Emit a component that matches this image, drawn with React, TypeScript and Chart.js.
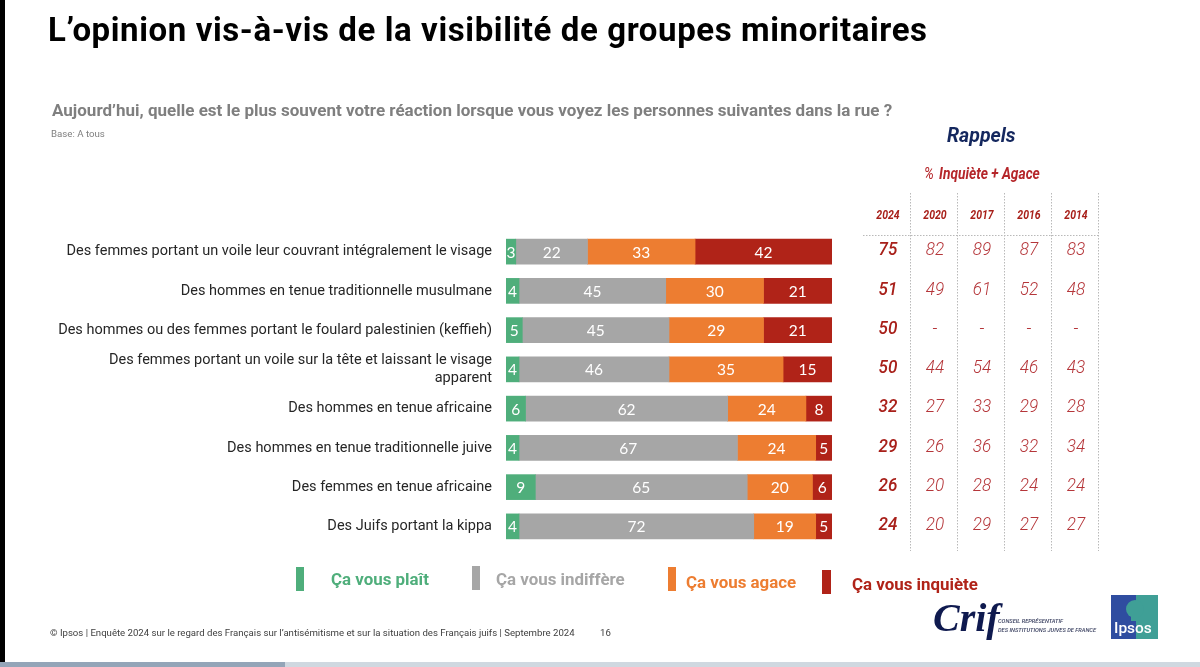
import React, { useEffect, useRef } from "react";
import { Chart, registerables } from "chart.js";

Chart.register(...registerables);

const categories: (string | string[])[] = [
  "Des femmes portant un voile leur couvrant intégralement le visage",
  "Des hommes en tenue traditionnelle musulmane",
  "Des hommes ou des femmes portant le foulard palestinien (keffieh)",
  ["Des femmes portant un voile sur la tête et laissant le visage", "apparent"],
  "Des hommes en tenue africaine",
  "Des hommes en tenue traditionnelle juive",
  "Des femmes en tenue africaine",
  "Des Juifs portant la kippa",
];
const plait = [3, 4, 5, 4, 6, 4, 9, 4];
const indifferent = [22, 45, 45, 46, 62, 67, 65, 72];
const agace = [33, 30, 29, 35, 24, 24, 20, 19];
const inquiete = [42, 21, 21, 15, 8, 5, 6, 5];

const years = ["2024", "2020", "2017", "2016", "2014"];
const r2024 = ["75", "51", "50", "50", "32", "29", "26", "24"];
const r2020 = ["82", "49", "-", "44", "27", "26", "20", "20"];
const r2017 = ["89", "61", "-", "54", "33", "36", "28", "29"];
const r2016 = ["87", "52", "-", "46", "29", "32", "24", "27"];
const r2014 = ["83", "48", "-", "43", "28", "34", "24", "27"];
const rappels = [r2024, r2020, r2017, r2016, r2014];

const columnX = [888, 935, 982, 1029, 1076];
const GREEN = "#4fae7b";
const GREY = "#a6a6a6";
const ORANGE = "#ed7d31";
const RED = "#b02318";

function squeezed(ctx: CanvasRenderingContext2D, text: string, x: number, y: number, sx: number) {
  ctx.save();
  ctx.translate(x, y);
  ctx.scale(sx, 1);
  ctx.fillText(text, 0, 0);
  ctx.restore();
}

const valueLabels = {
  id: "valueLabels",
  afterDatasetsDraw(chart: any) {
    const { ctx } = chart;
    ctx.save();
    ctx.font = '15.5px Lato';
    ctx.fillStyle = "#ffffff";
    ctx.textAlign = "center";
    ctx.textBaseline = "middle";
    chart.data.datasets.forEach((ds: any, i: number) => {
      chart.getDatasetMeta(i).data.forEach((el: any, j: number) => {
        const c = el.getCenterPoint();
        ctx.fillText(String(ds.data[j]), c.x, c.y + 1);
      });
    });
    ctx.restore();
  },
};

const rappelTable = {
  id: "rappelTable",
  afterDraw(chart: any) {
    const { ctx } = chart;
    const y = chart.scales.y;
    ctx.save();
    ctx.strokeStyle = "#b9b9b9";
    ctx.lineWidth = 1;
    ctx.setLineDash([1.5, 1.5]);
    [910, 957, 1004, 1051, 1098].forEach((x) => {
      ctx.beginPath();
      ctx.moveTo(x + 0.5, 193);
      ctx.lineTo(x + 0.5, 551);
      ctx.stroke();
    });
    ctx.beginPath();
    ctx.moveTo(863, 235.5);
    ctx.lineTo(1098, 235.5);
    ctx.stroke();
    ctx.setLineDash([]);
    ctx.textAlign = "center";
    ctx.textBaseline = "middle";
    years.forEach((yr, c) => {
      ctx.font = 'italic 700 12.5px Roboto';
      ctx.fillStyle = "#a8201a";
      squeezed(ctx, yr, columnX[c], 215.5, 0.84);
    });
    rappels.forEach((col, c) => {
      col.forEach((v, r) => {
        ctx.font = c === 0 ? 'italic 500 19px Roboto' : 'italic 300 19px Roboto';
        ctx.fillStyle = c === 0 ? "#a8201a" : "#b5363a";
        squeezed(ctx, v, columnX[c], y.getPixelForValue(r) - 1, 0.9);
      });
    });
    ctx.textAlign = "left";
    ctx.fillStyle = "#b5262a";
    ctx.font = 'italic 400 16px Roboto';
    squeezed(ctx, "%", 924, 174.5, 0.86);
    ctx.font = 'italic 700 16px Roboto';
    squeezed(ctx, "Inquiète + Agace", 939, 174.5, 0.86);
    ctx.restore();
  },
};

const abs = (s: React.CSSProperties): React.CSSProperties => ({
  position: "absolute",
  whiteSpace: "nowrap",
  fontFamily: "Roboto",
  lineHeight: 1,
  ...s,
});

const legendItems = [
  { label: "Ça vous plaît", color: GREEN, sx: 296, sw: 8, sy: 567, tx: 331, ty: 571 },
  { label: "Ça vous indiffère", color: GREY, sx: 472, sw: 8, sy: 566, tx: 496, ty: 571 },
  { label: "Ça vous agace", color: ORANGE, sx: 668, sw: 8, sy: 567, tx: 686, ty: 574 },
  { label: "Ça vous inquiète", color: RED, sx: 822, sw: 9, sy: 570, tx: 852, ty: 576 },
];

export default function App() {
  const ref = useRef<HTMLCanvasElement>(null);
  useEffect(() => {
    document.body.style.margin = "0";
    const chart = new Chart(ref.current!, {
      type: "bar",
      data: {
        labels: categories as any,
        datasets: [
          { label: "Ça vous plaît", data: plait, backgroundColor: GREEN },
          { label: "Ça vous indiffère", data: indifferent, backgroundColor: GREY },
          { label: "Ça vous agace", data: agace, backgroundColor: ORANGE },
          { label: "Ça vous inquiète", data: inquiete, backgroundColor: RED },
        ],
      },
      options: {
        indexAxis: "y",
        animation: false,
        responsive: false,
        maintainAspectRatio: false,
        datasets: { bar: { barThickness: 25 } },
        layout: { padding: { left: 0, right: 368, top: 232, bottom: 121 } },
        plugins: { legend: { display: false }, title: { display: false }, tooltip: { enabled: false } },
        scales: {
          x: { stacked: true, min: 0, max: 100, display: false },
          y: {
            stacked: true,
            afterFit: (s: any) => { s.width = 506; },
            grid: { display: false, drawTicks: false },
            border: { display: false },
            ticks: {
              color: "#262626",
              padding: 14,
              autoSkip: false,
              font: { family: "Roboto", size: 14.5, lineHeight: 1.18 },
            },
          },
        },
      },
      plugins: [valueLabels, rappelTable],
    } as any);
    return () => chart.destroy();
  }, []);

  return (
    <div style={{ position: "fixed", left: 0, top: 0, width: 1200, height: 667, background: "#fff", overflow: "hidden" }}>
      <canvas ref={ref} width={1200} height={667} style={{ position: "absolute", left: 0, top: 0, width: 1200, height: 667 }} />
      <div style={abs({ left: 0, top: 0, width: 5, height: 662, background: "#000" })} />
      <div style={abs({ left: 0, top: 662, width: 285, height: 5, background: "#94a5b8" })} />
      <div style={abs({ left: 285, top: 662, width: 915, height: 5, background: "#cfd8e0" })} />
      <div style={abs({ left: 48, top: 13, fontSize: 33, fontWeight: 700, letterSpacing: 0.6, color: "#000" })}>
        L’opinion vis-à-vis de la visibilité de groupes minoritaires
      </div>
      <div style={abs({ left: 52, top: 102, fontSize: 17, fontWeight: 700, color: "#7f7f7f" })}>
        Aujourd’hui, quelle est le plus souvent votre réaction lorsque vous voyez les personnes suivantes dans la rue ?
      </div>
      <div style={abs({ left: 51, top: 129, fontSize: 9.7, color: "#7f7f7f" })}>Base: A tous</div>
      <div style={abs({ left: 947, top: 126, fontSize: 19.5, fontWeight: 700, fontStyle: "italic", color: "#14275e" })}>Rappels</div>
      {legendItems.map((l) => (
        <React.Fragment key={l.label}>
          <div style={abs({ left: l.sx, top: l.sy, width: l.sw, height: 24, background: l.color })} />
          <div style={abs({ left: l.tx, top: l.ty, fontSize: 16.9, fontWeight: 700, color: l.color })}>{l.label}</div>
        </React.Fragment>
      ))}
      <div style={abs({ left: 50, top: 628, fontSize: 9.6, color: "#404040" })}>
        © Ipsos | Enquête 2024 sur le regard des Français sur l’antisémitisme et sur la situation des Français juifs | Septembre 2024
      </div>
      <div style={abs({ left: 600, top: 628, fontSize: 9.6, color: "#404040" })}>16</div>
      <div style={abs({ left: 933, top: 598, fontSize: 40, fontWeight: 700, fontStyle: "italic", fontFamily: "Liberation Serif", color: "#0f1a4f" })}>Crif</div>
      <div style={abs({ left: 998, top: 617, fontSize: 5.7, fontStyle: "italic", fontWeight: 500, color: "#3a4060", lineHeight: "9px" })}>
        CONSEIL REPRÉSENTATIF<br />DES INSTITUTIONS JUIVES DE FRANCE
      </div>
      <svg style={{ position: "absolute", left: 1111, top: 595 }} width={47} height={44} viewBox="0 0 47 44">
        <rect x={0} y={0} width={47} height={44} fill="#2f4da0" />
        <rect x={25} y={0} width={22} height={44} fill="#3f9f96" />
        <circle cx={24} cy={14} r={9} fill="#3f9f96" />
        <rect x={20} y={20} width={7} height={6} fill="#3f9f96" />
      </svg>
      <div style={abs({ left: 1114, top: 621, fontSize: 15.5, fontWeight: 500, color: "#fff" })}>Ipsos</div>
    </div>
  );
}
